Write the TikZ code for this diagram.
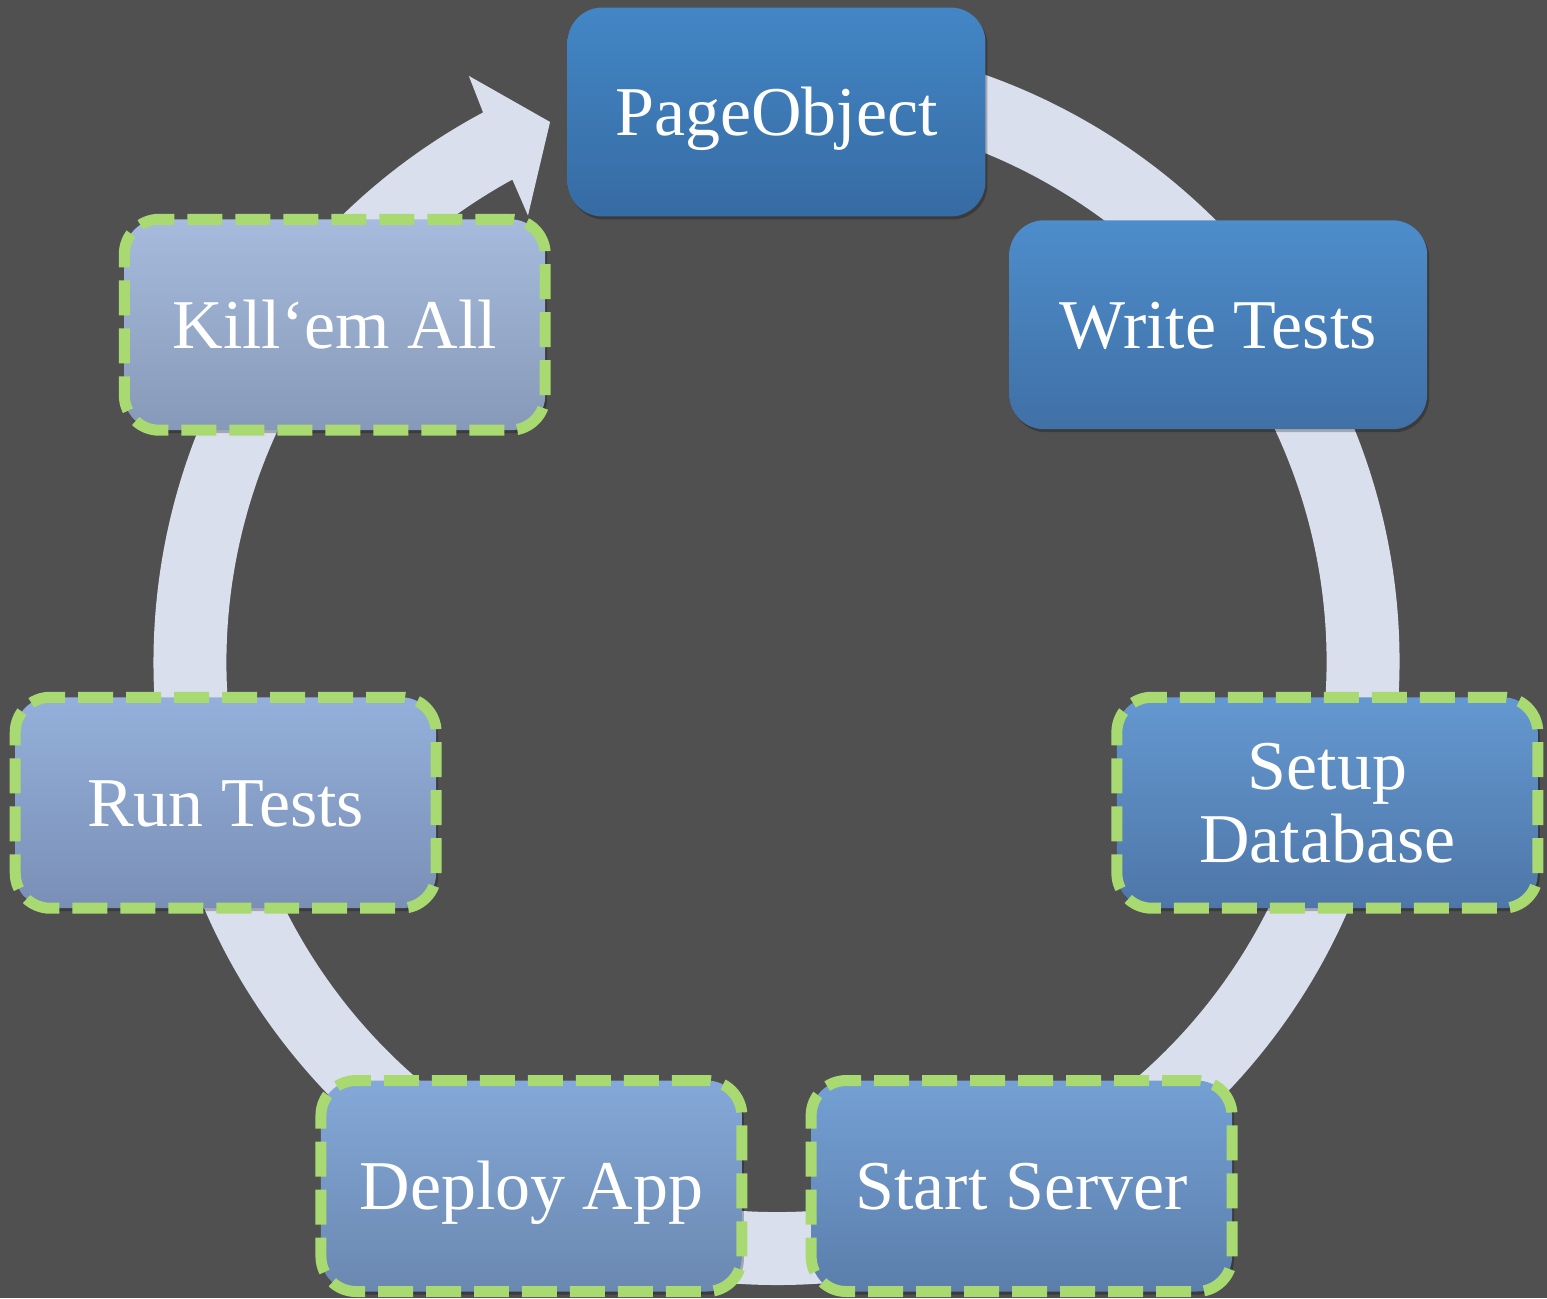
\documentclass[tikz,border=0pt]{standalone}
\usepackage{fontspec}
\setmainfont{Liberation Serif}
\usetikzlibrary{calc,shadows}

\definecolor{backdrop}{HTML}{505050}
\definecolor{ring}{HTML}{DADFEE}
\definecolor{dashgreen}{HTML}{A9D971}
\definecolor{poTop}{HTML}{4386C6}\definecolor{poBot}{HTML}{366BA3}
\definecolor{wtTop}{HTML}{4D8DCB}\definecolor{wtBot}{HTML}{4070A6}
\definecolor{sdTop}{HTML}{6498D0}\definecolor{sdBot}{HTML}{4E76A8}
\definecolor{ssTop}{HTML}{74A0D4}\definecolor{ssBot}{HTML}{5B7EAB}
\definecolor{daTop}{HTML}{84A8D8}\definecolor{daBot}{HTML}{6A88B0}
\definecolor{rtTop}{HTML}{94B0DA}\definecolor{rtBot}{HTML}{7A8FB6}
\definecolor{kaTop}{HTML}{A6BBDD}\definecolor{kaBot}{HTML}{8799B8}

\begin{document}
\begin{tikzpicture}[x=0.02cm,y=0.02cm,
  phase/.style={rectangle,rounded corners=0.7cm,minimum width=8.36cm,
    minimum height=4.18cm,inner sep=0pt,outer sep=0pt,text=white,
    font=\fontsize{39.8}{41.5}\selectfont,align=center,
    text height=27pt,text depth=0pt,
    drop shadow={shadow xshift=0.04cm,shadow yshift=-0.06cm,opacity=0.25,fill=black}},
  manual/.style={phase,minimum width=8.42cm,minimum height=4.22cm,
    draw=dashgreen,line width=0.22cm,dash pattern=on 0.7cm off 0.26cm}]

        % backdrop, fixes the size too
        \path[use as bounding box,fill=backdrop] (0,0) rectangle (1547,1298);

        % the cycle arrow behind the boxes
        \coordinate (axle) at (776.5,636);
        \begin{scope}[shift={(axle)}]
          \fill[ring] (85:623) arc[start angle=85,end angle=-241.9,radius=623]
            -- (-242.3:662) -- (-247.25:585.6) -- (-240.9:511) -- (-241.3:550)
            arc[start angle=-241.3,end angle=85,radius=550] -- cycle;
        \end{scope}

        \coordinate (hub) at (776.5,621);
        \node[phase,top color=poTop,bottom color=poBot] (PO) at ($(hub)+(90:565)$) {PageObject};
        \node[phase,top color=wtTop,bottom color=wtBot] (WT) at ($(hub)+(38.57:565)$) {Write Tests};
        \node[manual,top color=sdTop,bottom color=sdBot,text height=,text depth=] (SD) at ($(hub)+(-12.86:565)$) {Setup\\Database};
        \node[manual,top color=ssTop,bottom color=ssBot] (SS) at ($(hub)+(-64.29:565)$) {Start Server};
        \node[manual,top color=daTop,bottom color=daBot] (DA) at ($(hub)+(-115.71:565)$) {Deploy App};
        \node[manual,top color=rtTop,bottom color=rtBot] (RT) at ($(hub)+(-167.14:565)$) {Run Tests};
        \node[manual,top color=kaTop,bottom color=kaBot] (KA) at ($(hub)+(141.43:565)$) {Kill‘em All};
      \end{tikzpicture}
\end{document}
